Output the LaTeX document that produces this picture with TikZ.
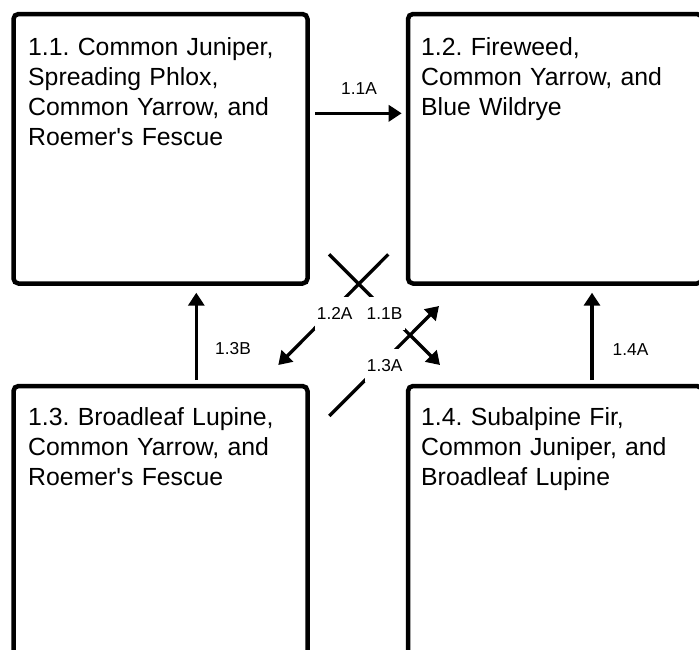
\documentclass[tikz,border=0pt]{standalone}
\usepackage{fontspec}
\setmainfont{Liberation Sans}
\usetikzlibrary{arrows.meta,calc}
\frenchspacing

\tikzset{
  stage/.style={draw=black, line width=4.5pt, rounded corners=5pt,
    minimum width=294pt, minimum height=269.5pt, inner sep=0pt, outer sep=0pt},
  stagetext/.style={anchor=base west, inner sep=0pt, text width=290pt, align=left,
    font=\fontsize{24.8pt}{30pt}\selectfont},
  conn/.style={draw=black, line width=3.3pt, -{Triangle[length=13pt,width=16pt]}},
  tag/.style={font=\fontsize{17.3pt}{20pt}\selectfont, inner sep=0pt},
  cuttag/.style={tag, fill=white, text height=12.4pt, text depth=0pt,
    minimum width=40pt, minimum height=33pt}
}

\begin{document}
\begin{tikzpicture}[x=1pt, y=-1pt]
  \useasboundingbox (0,0) rectangle (699,649);
  \clip (0,0) rectangle (699,649);

  % four stage boxes (three of them run past the page edge)
  \node[stage] (b11) at (160.5,148.75) {};
  \node[stage] (b12) at (555,148.75) {};
  \node[stage] (b13) at (160.5,520.75) {};
  \node[stage] (b14) at (555,520.75) {};

  \node[stagetext] (t11) at ($(b11.north west)+(14.5,41)$)
    {1.1. Common Juniper,\\Spreading Phlox,\\Common Yarrow, and\\Roemer\textquotesingle s Fescue};
  \node[stagetext] (t12) at ($(b12.north west)+(13,41)$)
    {1.2. Fireweed,\\Common Yarrow, and\\Blue Wildrye};
  \node[stagetext] (t13) at ($(b13.north west)+(14.5,39.5)$)
    {1.3. Broadleaf Lupine,\\Common Yarrow, and\\Roemer\textquotesingle s Fescue};
  \node[stagetext] (t14) at ($(b14.north west)+(13,39.5)$)
    {1.4. Subalpine Fir,\\Common Juniper, and\\Broadleaf Lupine};

  % transitions
  \draw[conn] ($(b11.north east)+(7.5,99.3)$) -- ($(b12.north west)+(-6.3,99.3)$);
  \draw[conn] ($(b13.north west)+(182.8,-6)$) -- ($(b11.south west)+(182.8,9.2)$);
  \draw[conn] ($(b14.north west)+(184,-6)$) -- ($(b12.south west)+(184,9.2)$);
  \draw[conn] ($(b12.south west)+(-19.7,-29.2)$) -- ($(b13.north east)+(-29.2,-21)$);
  \draw[conn] ($(b11.south east)+(21.5,-29.2)$) -- ($(b14.north west)+(32,-21)$);
  \draw[conn] ($(b13.north east)+(21.8,30)$) -- ($(b12.south west)+(31,22.5)$);

  % transition labels
  \node[tag, anchor=base] (l11a) at (359,94.3) {1.1A};
  \node[tag, anchor=base] (l13b) at (233,354) {1.3B};
  \node[tag, anchor=base] (l14a) at (630.5,355) {1.4A};
  \node[cuttag] (l12a) at (334.7,313.5) {1.2A};
  \node[cuttag] (l11b) at (384.5,313.5) {1.1B};
  \node[cuttag] (l13a) at (384.7,365) {1.3A};
\end{tikzpicture}
\end{document}
